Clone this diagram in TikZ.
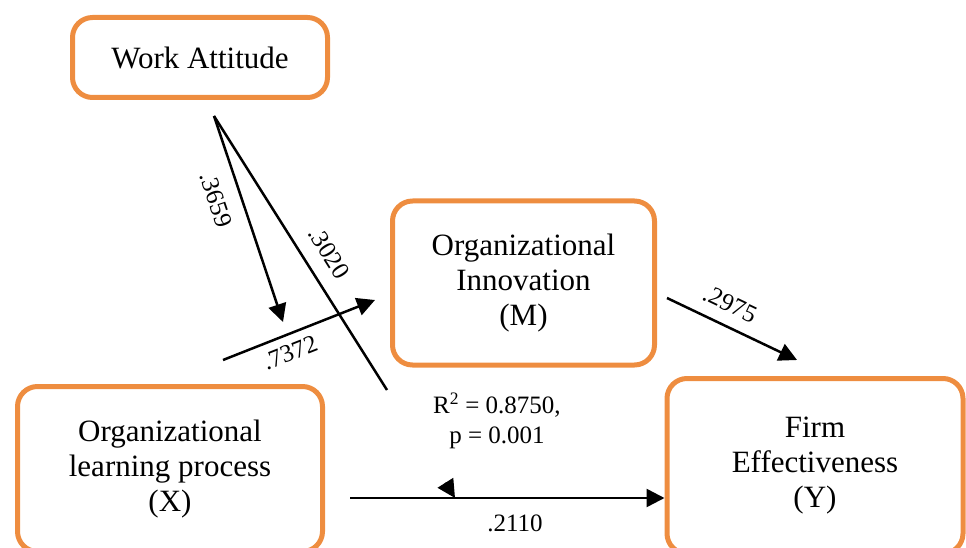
\documentclass[tikz,border=0pt]{standalone}
\usepackage{fontspec}
\setmainfont{Liberation Serif}
\usetikzlibrary{arrows.meta}
\definecolor{boxorange}{RGB}{238,141,64}

\begin{document}
\begin{tikzpicture}
% Moderated mediation diagram, positions in pixels from the top left
\def\pxsz{1pt}
\providecommand{\pathBoxColor}{boxorange}
\providecommand{\pathBoxLineWidth}{5pt}
\providecommand{\pathBoxRadius}{20pt}
\providecommand{\pathLinkWidth}{2.5pt}
\begin{scope}[x=\pxsz, y=-\pxsz, line join=round,
  box/.style={draw=\pathBoxColor, line width=\pathBoxLineWidth, rounded corners=\pathBoxRadius,
    align=center, inner sep=0pt, font=\fontsize{31}{35}\selectfont},
  coef/.style={inner sep=1pt, font=\fontsize{25}{30}\selectfont},
  link/.style={line width=\pathLinkWidth, -{Triangle[length=18pt,width=18pt]}}]
  \useasboundingbox (0,0) rectangle (966,548);
  % Variables
  \node[box, minimum width=255pt, minimum height=80pt] (wa) at (200,57.5) {Work Attitude};
  \node[box, minimum width=262pt, minimum height=164pt] (om) at (523.5,283) {Organizational\\Innovation\\(M)};
  \node[box, minimum width=305pt, minimum height=165pt] (olp) at (170,469) {Organizational\\learning process\\(X)};
  \node[box, minimum width=296pt, minimum height=175pt] (fe) at (815,466) {Firm\\Effectiveness\\(Y)};
  % Free ends of the paths
  \coordinate (apex) at (214,116);
  \coordinate (modA) at (283,322);
  \coordinate (xmStart) at (223,360);
  \coordinate (xmEnd) at (375,300);
  \coordinate (modB) at (387,390);
  \coordinate (modBtail) at (445.4,482.8);
  \coordinate (modBtip) at (455,498);
  \coordinate (xyStart) at (350,498);
  \coordinate (myStart) at (667,298);
  \coordinate (myEnd) at (797,360);
  % Paths
  \draw[link] (apex) -- (modA);
  \draw[line width=\pathLinkWidth] (apex) -- (modB);
  \draw[link] (modBtail) -- (modBtip);
  \draw[link] (xmStart) -- (xmEnd);
  \draw[link] (myStart) -- (myEnd);
  \draw[link] (xyStart) -- (xyStart -| fe.west);
  % Coefficients
  \node[coef, rotate=-71.5] (c3659) at (216,200) {.3659};
  \node[coef, rotate=-57.7] (c3020) at (329,253) {.3020};
  \node[coef, rotate=21.5] (c7372) at (290,353) {.7372};
  \node[coef, rotate=-25.5] (c2975) at (730,304) {.2975};
  \node[coef] (c2110) at (515,523) {.2110};
  \node[coef, align=center] (rsq) at (497,421) {R\textsuperscript{2} = 0.8750,\\p = 0.001};
\end{scope}
\end{tikzpicture}
\end{document}
